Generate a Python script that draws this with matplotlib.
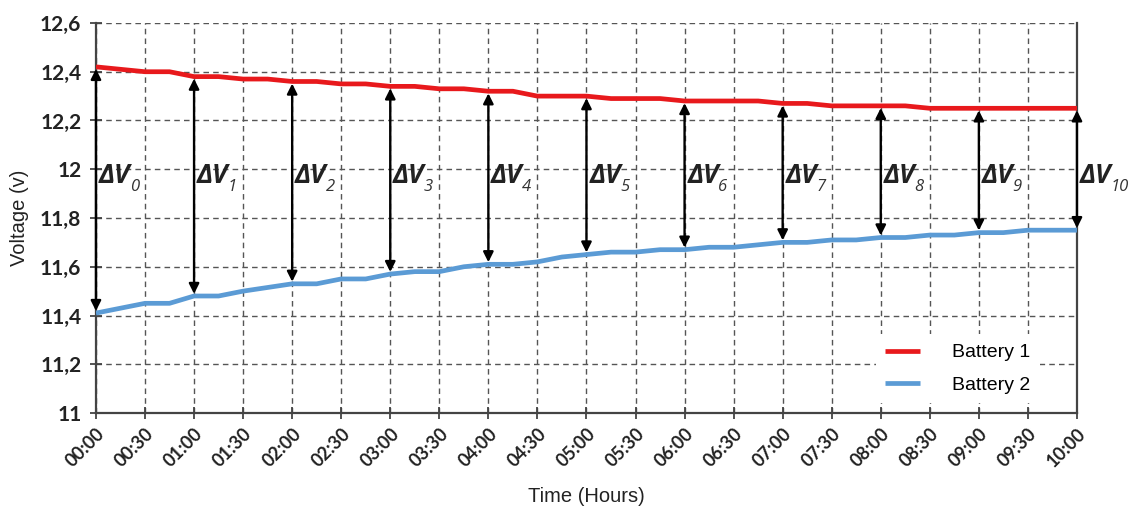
import numpy as np
import matplotlib
matplotlib.use("Agg")
import matplotlib.pyplot as plt
from matplotlib.ticker import FixedLocator, FuncFormatter

# time in minutes, one reading every 15 minutes (00:00 .. 10:00)
minutes = list(range(0, 601, 15))

battery_1 = [12.42, 12.41, 12.40, 12.40, 12.38, 12.38, 12.37, 12.37, 12.36, 12.36,
             12.35, 12.35, 12.34, 12.34, 12.33, 12.33, 12.32, 12.32, 12.30, 12.30,
             12.30, 12.29, 12.29, 12.29, 12.28, 12.28, 12.28, 12.28, 12.27, 12.27,
             12.26, 12.26, 12.26, 12.26, 12.25, 12.25, 12.25, 12.25, 12.25, 12.25,
             12.25]

battery_2 = [11.41, 11.43, 11.45, 11.45, 11.48, 11.48, 11.50, 11.515, 11.53, 11.53,
             11.55, 11.55, 11.57, 11.58, 11.58, 11.60, 11.61, 11.61, 11.62, 11.64,
             11.65, 11.66, 11.66, 11.67, 11.67, 11.68, 11.68, 11.69, 11.70, 11.70,
             11.71, 11.71, 11.72, 11.72, 11.73, 11.73, 11.74, 11.74, 11.75, 11.75,
             11.75]

x_ticks = list(range(0, 601, 30))
x_tick_labels = ["%02d:%02d" % (m // 60, m % 60) for m in x_ticks]
y_ticks = [11.0, 11.2, 11.4, 11.6, 11.8, 12.0, 12.2, 12.4, 12.6]

RED = "#e8191c"
BLUE = "#5b9bd5"
GRID = "#555555"

fig = plt.figure(figsize=(11.37, 5.13), dpi=100)
ax = fig.add_axes([0.0844, 0.1949, 0.8628, 0.7603])

ax.plot(minutes, battery_1, color=RED, lw=3.4, label="Battery 1", zorder=3, solid_capstyle="butt")
ax.plot(minutes, battery_2, color=BLUE, lw=3.4, label="Battery 2", zorder=3, solid_capstyle="butt")

# double arrows every hour, between the two curves
for k, m in enumerate(minutes):
    if m % 60 != 0:
        continue
    i = m // 60
    ax.annotate("", xy=(m, battery_1[k]), xytext=(m, battery_2[k]),
                arrowprops=dict(arrowstyle="<|-|>", color="black", lw=1.7,
                                mutation_scale=15, shrinkA=1.5, shrinkB=1.5),
                zorder=4)
    t = ax.annotate("ΔV", xy=(m, 11.975), xytext=(2, 0), textcoords="offset points",
                    fontsize=19, fontweight="bold", fontstyle="italic", family="Open Sans",
                    color="#222222", va="center", ha="left", annotation_clip=False)
    ax.annotate(str(i), xy=(0.98, 0.36), xycoords=t, fontsize=12,
                fontstyle="italic", family="Open Sans", color="#333333",
                va="top", ha="left")

ax.set_xlim(0, 600)
ax.set_ylim(11, 12.6)
ax.xaxis.set_major_locator(FixedLocator(x_ticks))
ax.set_xticklabels(x_tick_labels, rotation=45, ha="right", rotation_mode="anchor",
                   fontsize=13, fontweight="bold", family="Lato", color="#222222")
ax.yaxis.set_major_locator(FixedLocator(y_ticks))
ax.yaxis.set_major_formatter(FuncFormatter(lambda v, p: ("%g" % round(v, 1)).replace(".", ",")))
for lab in ax.get_yticklabels():
    lab.set_fontsize(15)
    lab.set_fontweight("bold")
    lab.set_family("Lato")
    lab.set_color("#222222")

ax.grid(True, color=GRID, linestyle=(0, (4, 3)), linewidth=1.0)
ax.set_axisbelow(True)
ax.tick_params(axis="both", direction="inout", length=9, width=1.3, color="#444444")
ax.tick_params(axis="x", pad=4)
ax.tick_params(axis="y", pad=6)

ax.spines["top"].set_visible(False)
for side in ["left", "bottom", "right"]:
    ax.spines[side].set_color("#444444")
    ax.spines[side].set_linewidth(1.6)

ax.set_ylabel("Voltage (v)", fontsize=14.5, family="Liberation Sans", color="#222222", labelpad=8)
ax.set_xlabel("Time (Hours)", fontsize=14.5, family="Liberation Sans", color="#222222", labelpad=12)

leg = ax.legend(loc="lower left", bbox_to_anchor=(0.785, 0.0), frameon=True,
                handlelength=1.8, handletextpad=1.6, labelspacing=0.75,
                borderpad=0.5, prop={"family": "Liberation Sans", "size": 14})
leg.get_frame().set_facecolor("white")
leg.get_frame().set_edgecolor("none")
leg.get_frame().set_alpha(1.0)

fig.savefig("out.png", dpi=100)
